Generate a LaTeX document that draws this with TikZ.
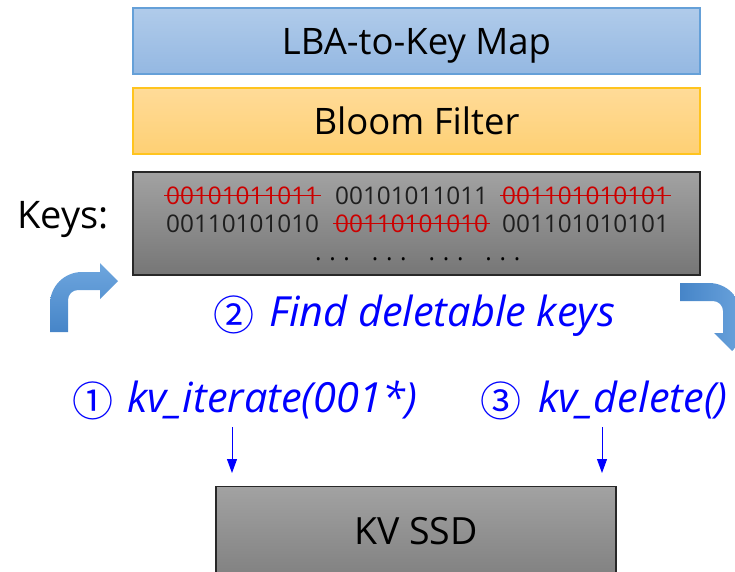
\documentclass[tikz,border=0pt]{standalone}
\usepackage{fontspec}
\setmainfont{Open Sans}
\newfontfamily\circfont{Noto Sans CJK JP}
\usetikzlibrary{arrows.meta}

\definecolor{mapfillA}{RGB}{176,203,234}
\definecolor{mapfillB}{RGB}{148,184,226}
\definecolor{mapline}{RGB}{101,160,216}
\definecolor{bloomfillA}{RGB}{255,219,152}
\definecolor{bloomfillB}{RGB}{254,208,116}
\definecolor{bloomline}{RGB}{255,196,30}
\definecolor{grayA}{RGB}{162,162,162}
\definecolor{grayB}{RGB}{118,118,118}
\definecolor{boxline}{RGB}{40,40,40}
\definecolor{keyink}{RGB}{30,30,30}
\definecolor{strikered}{RGB}{204,0,0}
\definecolor{arrowA}{RGB}{110,166,222}
\definecolor{arrowB}{RGB}{70,133,200}
\definecolor{stepblue}{RGB}{0,0,255}

% one cell of the dotted continuation row
\newcommand{\kdot}{\makebox[14.2pt]{.}}
\newcommand{\kgap}{\makebox[14.2pt]{}}

\tikzset{
  layerbox/.style={draw, line width=1.3pt, minimum width=567pt, minimum height=66pt,
    inner sep=0pt},
  bigtext/.style={inner sep=0pt, anchor=base, font=\fontsize{36.5}{42}\selectfont},
  graybox/.style={draw=boxline, line width=1.3pt, top color=grayA, bottom color=grayB,
    inner sep=0pt},
  keytext/.style={anchor=base west, inner sep=0pt, text=keyink,
    font=\fontsize{24.3}{28}\selectfont},
  deadkey/.style={keytext, text=strikered},
  strike/.style={draw=strikered, line width=1.4pt},
  steplabel/.style={inner sep=0pt, anchor=base west, text=stepblue,
    font=\fontsize{41.5}{46}\selectfont\itshape},
  stepnum/.style={inner sep=0pt, anchor=base west, text=stepblue,
    font=\fontsize{41}{46}\selectfont\circfont},
  callarrow/.style={draw=stepblue, line width=0.9pt,
    -{Triangle[width=10pt,length=14pt]}}
}

\begin{document}
\begin{tikzpicture}[x=1pt,y=-1pt]
\useasboundingbox (0,0) rectangle (735,571);
\clip (0,0) rectangle (735,571);

% layer boxes
\node[layerbox, draw=mapline, top color=mapfillA, bottom color=mapfillB]
  (map) at (416.5,41) {};
\node[bigtext] (maplabel) at (416.5,54) {LBA-to-Key Map};
\node[layerbox, draw=bloomline, top color=bloomfillA, bottom color=bloomfillB]
  (bloom) at (416.5,121) {};
\node[bigtext] (bloomlabel) at (416.5,134) {Bloom Filter};

% key list
\node[graybox, minimum width=567pt, minimum height=103pt] (keys) at (416.5,223.5) {};
\node[bigtext, font=\fontsize{38}{42}\selectfont] (keyslabel) at (63,228) {Keys:};

\node[deadkey] (k11) at (166,204) {00101011011};
\node[keytext] (k12) at (335,204) {00101011011};
\node[deadkey] (k13) at (502,204) {001101010101};
\node[keytext] (k21) at (166,232) {00110101010};
\node[deadkey] (k22) at (335,232) {00110101010};
\node[keytext] (k23) at (502,232) {001101010101};
\draw[strike] ([xshift=-2pt,yshift=8.5pt]k11.base west) -- ([xshift=2pt,yshift=8.5pt]k11.base east);
\draw[strike] ([xshift=-2pt,yshift=8.5pt]k13.base west) -- ([xshift=2pt,yshift=8.5pt]k13.base east);
\draw[strike] ([xshift=-2pt,yshift=8.5pt]k22.base west) -- ([xshift=2pt,yshift=8.5pt]k22.base east);
\node[keytext, text=black] (kdots) at (311,260)
  {\kdot\kdot\kdot\kgap\kdot\kdot\kdot\kgap\kdot\kdot\kdot\kgap\kdot\kdot\kdot};

% bent arrows around the key list
\shade[top color=arrowA, bottom color=arrowB]
  (50,332) -- (50,304) .. controls (50,286.3) and (64.3,272) .. (82,272)
  -- (100,272) -- (100,263) -- (118,281) -- (100,299) -- (100,290)
  -- (78,290) .. controls (72.5,290) and (68,294.5) .. (68,300)
  -- (68,332) -- cycle;
\shade[left color=arrowB, right color=arrowA]
  (680,283) -- (709,283) .. controls (726.7,283) and (741,297.3) .. (741,315)
  -- (741,333) -- (750,333) -- (732,351) -- (714,333) -- (723,333)
  -- (723,311) .. controls (723,305.5) and (718.5,301) .. (713,301)
  -- (680,301) -- cycle;

% step labels
\node[stepnum] (n2) at (213,330) {②};
\node[steplabel] (step2) at (269,326) {Find deletable keys};
\node[stepnum] (n1) at (72,416) {①};
\node[steplabel] (step1) at (127,412) {kv\_iterate(001*)};
\node[stepnum] (n3) at (480,416) {③};
\node[steplabel] (step3) at (538,412) {kv\_delete()};

% device
\node[graybox, minimum width=400pt, minimum height=120pt, anchor=north] (ssd) at (416,486) {};
\node[bigtext, font=\fontsize{37.5}{42}\selectfont] (ssdlabel) at (416,544) {KV SSD};

% calls into the device
\coordinate (c1s) at (232,427);
\coordinate (c1e) at (232,473);
\coordinate (c3s) at (602,427);
\coordinate (c3e) at (602,473);
\draw[callarrow] (c1s) -- (c1e);
\draw[callarrow] (c3s) -- (c3e);
\end{tikzpicture}
\end{document}
